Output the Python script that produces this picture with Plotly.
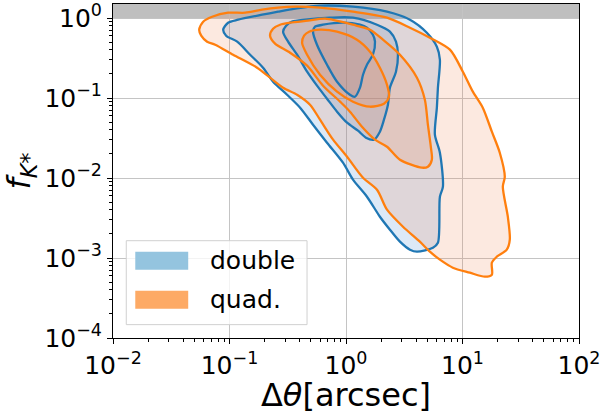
import numpy as np
import plotly.graph_objects as go

# ---------------- data (log10 of Δθ [arcsec] and log10 of f_K*) ----------------
# contour outlines of the two populations
double_outer_log_dtheta = [-1.054, -1.012, -0.926, -0.720, -0.583, -0.437, -0.223, 0.060, 0.352, 0.549,
                           0.694, 0.780, 0.806, 0.789, 0.780, 0.763, 0.806, 0.832, 0.806, 0.789,
                           0.746, 0.609, 0.549, 0.463, 0.377, 0.291, 0.180, 0.060, -0.026, -0.163,
                           -0.283, -0.394, -0.506, -0.626, -0.712, -0.823, -0.934, -1.029]
double_outer_log_f = [-0.146, -0.059, -0.021, 0.041, 0.079, 0.116, 0.154, 0.141, 0.079, -0.021,
                      -0.184, -0.359, -0.521, -0.871, -1.121, -1.459, -1.684, -2.109, -2.234, -2.809,
                      -2.871, -2.921, -2.896, -2.796, -2.646, -2.484, -2.234, -2.021, -1.809, -1.559,
                      -1.334, -1.121, -0.959, -0.796, -0.621, -0.459, -0.296, -0.221]

double_mid_log_dtheta = [-0.540, -0.514, -0.463, -0.351, -0.137, 0.060, 0.266, 0.377, 0.429, 0.446,
                         0.429, 0.377, 0.360, 0.326, 0.291, 0.240, 0.171, 0.103, 0.009, -0.077,
                         -0.163, -0.249, -0.334, -0.420, -0.497]
double_mid_log_f = [-0.171, -0.096, -0.046, -0.021, 0.004, 0.004, -0.084, -0.171, -0.296, -0.459,
                    -0.671, -0.871, -1.084, -1.271, -1.421, -1.521, -1.496, -1.409, -1.309, -1.171,
                    -1.009, -0.846, -0.671, -0.459, -0.296]

double_inner_log_dtheta = [-0.283, -0.266, -0.197, -0.026, 0.120, 0.180, 0.231, 0.249, 0.231, 0.180,
                           0.146, 0.120, 0.077, 0.034, -0.077, -0.163, -0.249]
double_inner_log_f = [-0.171, -0.109, -0.084, -0.059, -0.084, -0.121, -0.209, -0.296, -0.459, -0.584,
                      -0.709, -0.871, -0.984, -0.959, -0.796, -0.584, -0.334]

quad_outer_log_dtheta = [-1.260, -1.226, -1.149, -1.012, -0.866, -0.720, -0.583, -0.437, -0.223, 0.060,
                         0.352, 0.549, 0.720, 0.892, 1.003, 1.089, 1.174, 1.252, 1.320, 1.363,
                         1.346, 1.389, 1.406, 1.380, 1.294, 1.252, 1.252, 1.192, 1.063, 0.917,
                         0.806, 0.720, 0.634, 0.489, 0.352, 0.266, 0.146, 0.009, -0.111, -0.223,
                         -0.309, -0.420, -0.540, -0.652, -0.763, -0.969, -1.123, -1.192, -1.243]
quad_outer_log_f = [-0.146, -0.046, 0.016, 0.066, 0.066, 0.104, 0.129, 0.141, 0.129, 0.079,
                    0.004, -0.121, -0.246, -0.396, -0.671, -0.921, -1.121, -1.421, -1.684, -1.984,
                    -2.109, -2.484, -2.771, -2.896, -2.984, -3.059, -3.209, -3.234, -3.184, -3.121,
                    -3.021, -2.921, -2.796, -2.609, -2.396, -2.146, -1.996, -1.734, -1.521, -1.271,
                    -1.084, -0.959, -0.871, -0.746, -0.621, -0.459, -0.334, -0.296, -0.221]

quad_mid_log_dtheta = [-0.652, -0.626, -0.566, -0.480, -0.326, -0.180, 0.060, 0.206, 0.317, 0.463,
                       0.609, 0.677, 0.703, 0.729, 0.737, 0.703, 0.651, 0.463, 0.352, 0.249,
                       0.137, 0.034, -0.051, -0.197, -0.334, -0.480, -0.609]
quad_mid_log_f = [-0.221, -0.134, -0.084, -0.059, -0.034, -0.009, -0.084, -0.146, -0.271, -0.459,
                  -0.746, -1.021, -1.334, -1.621, -1.771, -1.859, -1.871, -1.771, -1.609, -1.521,
                  -1.359, -1.171, -1.046, -0.846, -0.596, -0.434, -0.321]

quad_inner_log_dtheta = [-0.377, -0.360, -0.317, -0.223, -0.077, 0.094, 0.206, 0.291, 0.352, 0.369,
                         0.326, 0.206, 0.060, -0.077, -0.223, -0.334]
quad_inner_log_f = [-0.309, -0.221, -0.171, -0.146, -0.171, -0.271, -0.421, -0.621, -0.834, -0.984,
                    -1.071, -1.109, -1.046, -0.921, -0.709, -0.459]

series_names = ["double", "quad."]
x_tick_values = [1e-2, 1e-1, 1e0, 1e1, 1e2]
x_tick_labels = ["10<sup>−2</sup>", "10<sup>−1</sup>", "10<sup>0</sup>", "10<sup>1</sup>", "10<sup>2</sup>"]
y_tick_values = [1e-4, 1e-3, 1e-2, 1e-1, 1e0]
y_tick_labels = ["10<sup>−4</sup>", "10<sup>−3</sup>", "10<sup>−2</sup>", "10<sup>−1</sup>", "10<sup>0</sup>"]
f_upper_limit = 1.0  # physically excluded region f > 1 (gray band)

X_LOG_RANGE = [-2, 2]
Y_LOG_RANGE = [-4, 0.175]

# ---------------- styling ----------------
FONT = "DejaVu Sans"
BLUE_LINE = "#1f77b4"
ORANGE_LINE = "#ff7f0e"
BLUE_FILL = "rgba(70,140,210,0.19)"
ORANGE_FILL = "rgba(240,125,70,0.17)"
BLUE_PATCH = "#94c4df"
ORANGE_PATCH = "#fdaa65"

fig = go.Figure()


def closed(lx, ly):
    x = [10 ** v for v in lx + lx[:1]]
    y = [10 ** v for v in ly + ly[:1]]
    return x, y


contours = {
    "double": [(double_outer_log_dtheta, double_outer_log_f),
               (double_mid_log_dtheta, double_mid_log_f),
               (double_inner_log_dtheta, double_inner_log_f)],
    "quad.": [(quad_outer_log_dtheta, quad_outer_log_f),
              (quad_mid_log_dtheta, quad_mid_log_f),
              (quad_inner_log_dtheta, quad_inner_log_f)],
}
fills = {"double": BLUE_FILL, "quad.": ORANGE_FILL}
lines = {"double": BLUE_LINE, "quad.": ORANGE_LINE}

# filled regions
for name in series_names:
    for lx, ly in contours[name]:
        x, y = closed(lx, ly)
        fig.add_trace(go.Scatter(x=x, y=y, mode="lines", fill="toself", fillcolor=fills[name],
                                 line=dict(width=0, shape="spline", smoothing=0.8),
                                 hoverinfo="skip", showlegend=False))
# outlines
for name in series_names:
    for lx, ly in contours[name]:
        x, y = closed(lx, ly)
        fig.add_trace(go.Scatter(x=x, y=y, mode="lines",
                                 line=dict(width=2.3, color=lines[name], shape="spline", smoothing=0.8),
                                 name=name, hoverinfo="skip", showlegend=False))

# gray band f > 1
y_band0 = (np.log10(f_upper_limit) - Y_LOG_RANGE[0]) / (Y_LOG_RANGE[1] - Y_LOG_RANGE[0])
fig.add_shape(type="rect", xref="paper", yref="paper", x0=0, x1=1, y0=y_band0, y1=1,
              fillcolor="rgb(191,191,191)", line=dict(width=0), layer="below")

# legend (drawn manually to match patch sizes)
fig.add_shape(type="rect", xref="paper", yref="paper", x0=0.0285, x1=0.4164, y0=0.040, y1=0.2913,
              fillcolor="rgba(255,255,255,0.8)", line=dict(color="#d0d0d0", width=1), layer="above")
legend_rows = [(0.2584, 0.2045, BLUE_PATCH), (0.1416, 0.0877, ORANGE_PATCH)]
for (ytop, ybot, col), name in zip(legend_rows, series_names):
    fig.add_shape(type="rect", xref="paper", yref="paper", x0=0.0478, x1=0.1614, y0=ybot, y1=ytop,
                  fillcolor=col, line=dict(width=0), layer="above")
    fig.add_annotation(xref="paper", yref="paper", x=0.2035, y=(ytop + ybot) / 2, text=name,
                       showarrow=False, xanchor="left", yanchor="middle",
                       font=dict(family=FONT, size=25, color="black"))

minor_x = [m * 10.0 ** e for e in range(-2, 2) for m in range(2, 10)]
minor_y = [m * 10.0 ** e for e in range(-4, 0) for m in range(2, 10)]

axis_common = dict(type="log", showline=True, linecolor="black", linewidth=1, mirror=True,
                   ticks="outside", ticklen=5, tickwidth=1, tickcolor="black",
                   showgrid=True, gridcolor="#c4c4c4", gridwidth=1, zeroline=False,
                   tickfont=dict(family=FONT, size=25, color="black"))

fig.update_xaxes(range=X_LOG_RANGE, tickmode="array", tickvals=x_tick_values, ticktext=x_tick_labels,
                 minor=dict(tickmode="array", tickvals=minor_x, ticks="outside", ticklen=3,
                            tickwidth=1, tickcolor="black", showgrid=False),
                 title=dict(text="Δ<i>θ</i>[arcsec]", font=dict(family=FONT, size=32, color="black"),
                            standoff=0),
                 **axis_common)
fig.update_yaxes(range=Y_LOG_RANGE, tickmode="array", tickvals=y_tick_values, ticktext=y_tick_labels,
                 minor=dict(tickmode="array", tickvals=minor_y, ticks="outside", ticklen=3,
                            tickwidth=1, tickcolor="black", showgrid=False),
                 title=dict(text="<i>f</i><sub><i>K</i>*</sub>", font=dict(family=FONT, size=32, color="black"),
                            standoff=4),
                 **axis_common)

fig.update_layout(width=605, height=414, margin=dict(l=113, r=26, t=4, b=76, autoexpand=False),
                  plot_bgcolor="white", paper_bgcolor="white", showlegend=False,
                  font=dict(family=FONT, color="black"))

fig.write_html("out.html")
